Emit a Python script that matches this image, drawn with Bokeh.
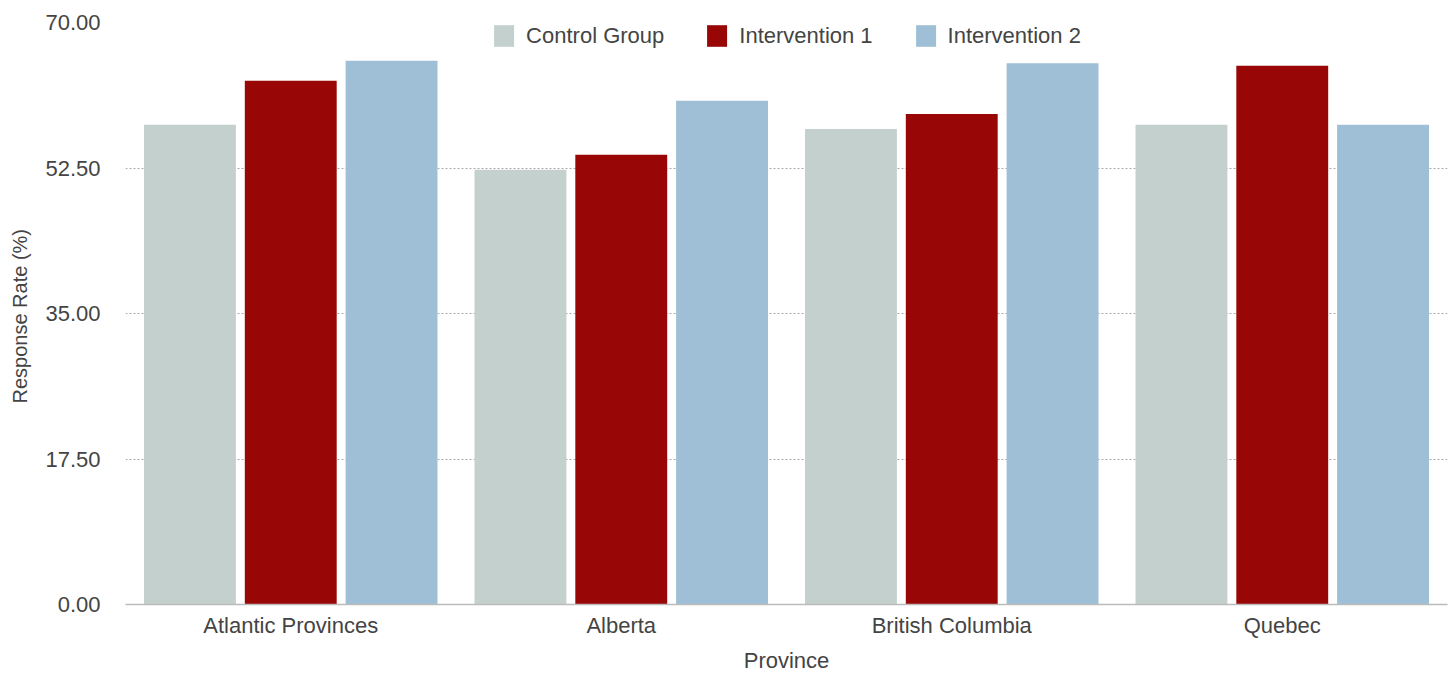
from bokeh.plotting import figure
from bokeh.models import ColumnDataSource, FactorRange, FixedTicker, NumeralTickFormatter, Legend, LegendItem
from bokeh.transform import dodge
from bokeh.embed import file_html
from bokeh.resources import INLINE

provinces = ["Atlantic Provinces", "Alberta", "British Columbia", "Quebec"]
control_group = [57.7, 52.3, 57.2, 57.7]
intervention_1 = [63.0, 54.1, 59.0, 64.8]
intervention_2 = [65.4, 60.6, 65.1, 57.7]
y_ticks = [0, 17.5, 35, 52.5, 70]

series_names = ["Control Group", "Intervention 1", "Intervention 2"]
colors = ["#c4d0cd", "#980606", "#9ebfd5"]

src = ColumnDataSource(dict(prov=provinces, c=control_group, i1=intervention_1, i2=intervention_2))

FONT = "Liberation Sans"
TXT = "#444444"

p = figure(x_range=FactorRange(*provinces), y_range=(0, 70), width=1452, height=675,
           output_backend="svg", toolbar_location=None,
           min_border_left=125, min_border_right=5, min_border_top=22, min_border_bottom=71)
p.outline_line_color = None

renderers = []
for key, off, col in zip(["c", "i1", "i2"], [-0.305, 0.0, 0.305], colors):
    r = p.vbar(x=dodge("prov", off, range=p.x_range), top=key, width=0.278, source=src,
               fill_color=col, line_color=None)
    renderers.append(r)

legend = Legend(items=[LegendItem(label=n, renderers=[r]) for n, r in zip(series_names, renderers)],
                orientation="horizontal", location="top_center")
legend.background_fill_alpha = 0
legend.border_line_color = None
legend.margin = 0
legend.padding = 0
legend.glyph_width = 25
legend.glyph_height = 27
legend.label_standoff = 10
legend.spacing = 40
legend.label_text_font = FONT
legend.label_text_font_size = "22px"
legend.label_text_color = TXT
p.add_layout(legend, "center")

p.xgrid.grid_line_color = None
p.ygrid.grid_line_color = "#aaaaaa"
p.ygrid.grid_line_dash = "2 2"
p.ygrid.grid_line_width = 1

for ax in [p.xaxis[0], p.yaxis[0]]:
    ax.major_tick_out = 0
    ax.major_tick_in = 0
    ax.minor_tick_out = 0
    ax.minor_tick_in = 0
    ax.major_tick_line_color = None
    ax.minor_tick_line_color = None
    ax.major_label_text_font = FONT
    ax.major_label_text_font_size = "22px"
    ax.major_label_text_color = TXT
    ax.axis_label_text_font = FONT
    ax.axis_label_text_font_style = "normal"
    ax.axis_label_text_color = TXT

p.yaxis.ticker = FixedTicker(ticks=y_ticks)
p.yaxis.formatter = NumeralTickFormatter(format="0.00")
p.yaxis.axis_line_color = None
p.yaxis.major_label_standoff = 25
p.yaxis.axis_label = "Response Rate  (%)"
p.yaxis.axis_label_standoff = 11
p.yaxis.axis_label_text_font_size = "20px"

p.xaxis.axis_line_color = "#bbbbbb"
p.xaxis.axis_line_width = 1.5
p.xaxis.major_label_standoff = 8
p.xaxis.axis_label = "Province"
p.xaxis.axis_label_standoff = 7
p.xaxis.axis_label_text_font_size = "22px"

open("out.html", "w").write(file_html(p, INLINE))
